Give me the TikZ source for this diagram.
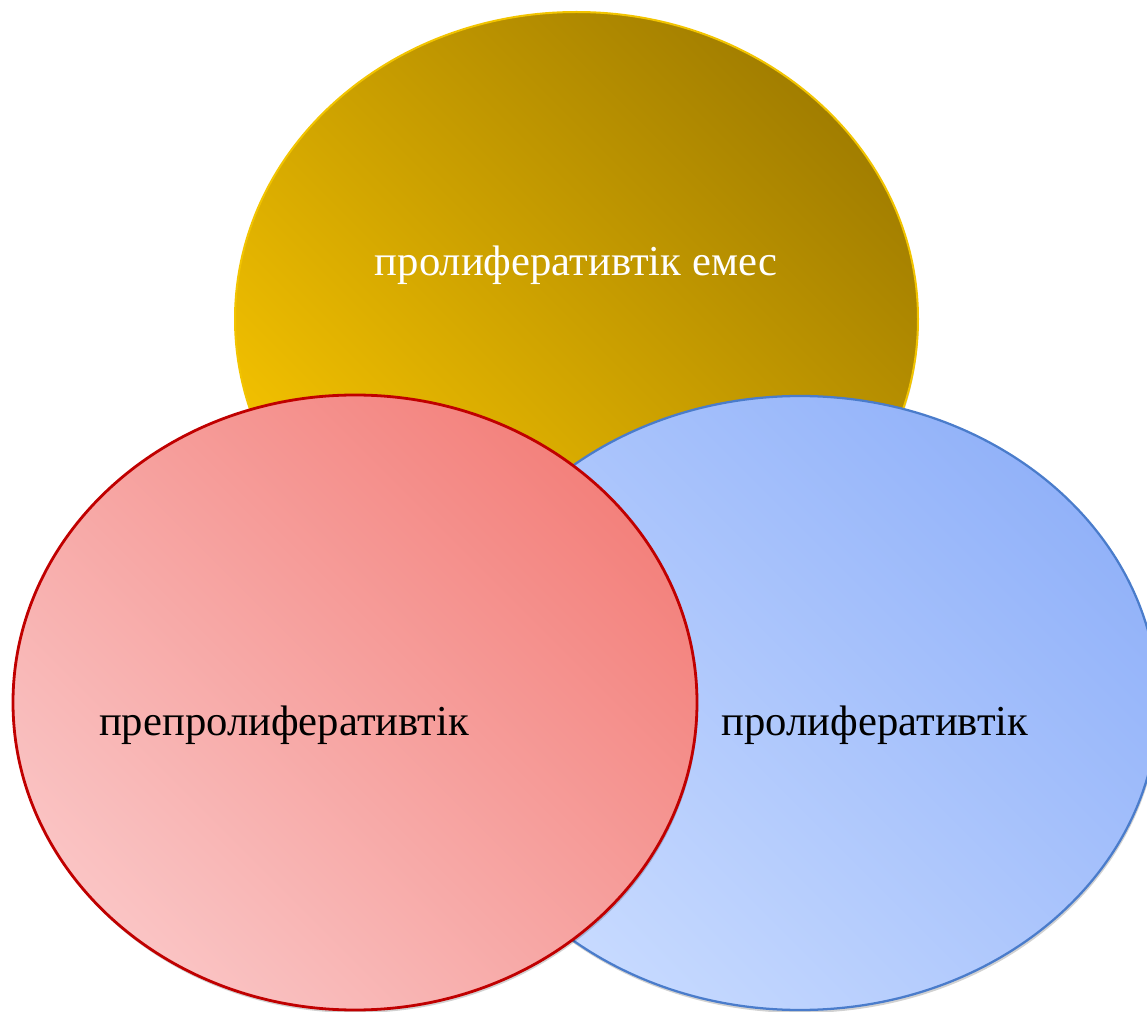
\documentclass[tikz,border=0pt]{standalone}
\usepackage{fontspec}
\setmainfont{Liberation Serif}
\definecolor{goldL}{HTML}{F4C200}
\definecolor{goldD}{HTML}{A27E00}
\definecolor{goldB}{HTML}{F2C400}
\definecolor{redL}{HTML}{FAC4C4}
\definecolor{redD}{HTML}{F3817C}
\definecolor{redB}{HTML}{C00000}
\definecolor{blueL}{HTML}{C7DAFF}
\definecolor{blueD}{HTML}{92B2F9}
\definecolor{blueB}{HTML}{4A7CCB}
\tikzset{
  lbl/.style={font=\fontsize{32}{37}\selectfont, inner sep=0pt},
  shadowell/.style={fill=black, opacity=0.18},
}
\begin{document}
\begin{tikzpicture}[x=0.75pt,y=-0.75pt]
\useasboundingbox (0,0) rectangle (1147,1012);
\clip (0,0) rectangle (1147,1012);
% gold
\fill[shadowell] (577,322) ellipse [x radius=341.5, y radius=307];
\shade[top color=goldD, bottom color=goldL, shading angle=-45] (576.5,319) ellipse [x radius=341.5, y radius=307];
\draw[goldB, line width=1.5pt] (576.5,319) ellipse [x radius=341.5, y radius=307];
% blue
\fill[shadowell] (801,706) ellipse [x radius=358, y radius=307];
\shade[top color=blueD, bottom color=blueL, shading angle=-45] (800,703) ellipse [x radius=358, y radius=307];
\draw[blueB, line width=1.7pt] (800,703) ellipse [x radius=358, y radius=307];
% red
\fill[shadowell] (356,705.5) ellipse [x radius=342, y radius=307.5];
\shade[top color=redD, bottom color=redL, shading angle=-45] (355,702.5) ellipse [x radius=342, y radius=307.5];
\draw[redB, line width=2.1pt] (355,702.5) ellipse [x radius=342, y radius=307.5];
% labels
\node[lbl, text=white] (t1) at (576,265) {пролиферативтік емес};
\node[lbl, text=black] (t2) at (284,725) {препролиферативтік};
\node[lbl, text=black] (t3) at (875,725) {пролиферативтік};
\end{tikzpicture}
\end{document}
